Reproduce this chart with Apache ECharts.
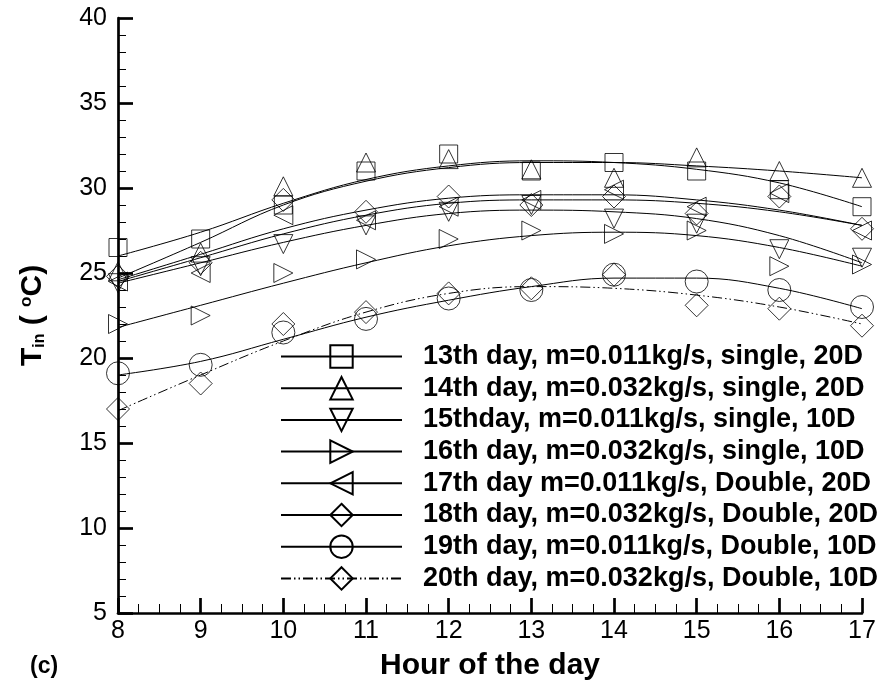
<!DOCTYPE html>
<html>
<head>
<meta charset="utf-8">
<script src="https://cdn.jsdelivr.net/npm/echarts@6/dist/echarts.min.js"></script>
<style>html,body{margin:0;padding:0;background:#fff;}#c{width:884px;height:686px;}</style>
</head>
<body>
<div id="c"></div>
<script>
// Hours of the day (x)
const hours = [8, 9, 10, 11, 12, 13, 14, 15, 16, 17];

// Legend labels
const names = [
  '13th day, m=0.011kg/s, single, 20D',
  '14th day, m=0.032kg/s, single, 20D',
  '15thday, m=0.011kg/s, single, 10D',
  '16th day, m=0.032kg/s, single, 10D',
  '17th day m=0.011kg/s, Double, 20D',
  '18th day, m=0.032kg/s, Double, 20D',
  '19th day, m=0.011kg/s, Double, 10D',
  '20th day, m=0.032kg/s, Double, 10D'
];

// Measured points (markers)
const m13 = [26.5, 27.0, 29.0, 31.0, 32.0, 31.0, 31.5, 31.0, 29.9, 28.9];
const m14 = [25.1, 26.2, 30.1, 31.5, 31.7, 31.1, 30.6, 31.8, 31.0, 30.6];
const m15 = [24.4, 25.4, 26.7, 27.8, 28.6, 29.0, 28.2, 27.9, 26.4, 25.9];
const m16 = [22.0, 22.5, 25.0, 25.8, 27.0, 27.5, 27.3, 27.5, 25.4, 25.5];
const m17 = [24.5, 25.0, 28.4, 28.1, 28.9, 29.3, 29.9, 28.9, 29.7, 27.5];
const m18 = [24.8, 25.6, 29.3, 28.6, 29.5, 29.0, 29.5, 28.5, 29.5, 27.6];
const m19 = [19.1, 19.6, 21.5, 22.3, 23.5, 24.0, 24.9, 24.5, 24.0, 23.0];
const m20 = [17.0, 18.5, 22.0, 22.7, 23.8, 24.1, 24.9, 23.1, 22.9, 21.9];

// Fitted trend curves at each hour
const f13 = [26.0, 27.4, 29.1, 30.5, 31.3, 31.6, 31.5, 31.1, 30.3, 28.9];
const f14 = [24.7, 26.8, 29.0, 30.4, 31.2, 31.5, 31.5, 31.3, 31.0, 30.6];
const f15 = [24.4, 25.6, 26.8, 27.8, 28.5, 28.7, 28.6, 28.2, 27.2, 25.6];
const f16 = [21.8, 23.1, 24.4, 25.6, 26.6, 27.2, 27.4, 27.2, 26.5, 25.4];
const f17 = [24.5, 25.9, 27.3, 28.4, 29.1, 29.3, 29.3, 29.1, 28.6, 27.8];
const f18 = [24.6, 26.1, 27.6, 28.7, 29.4, 29.6, 29.6, 29.3, 28.7, 27.8];
const f19 = [19.0, 19.8, 21.1, 22.4, 23.4, 24.2, 24.7, 24.7, 24.1, 22.9];
const f20 = [16.9, 19.0, 21.0, 22.7, 23.8, 24.2, 24.1, 23.7, 23.0, 22.0];

const markers = [m13, m14, m15, m16, m17, m18, m19, m20];
const fits = [f13, f14, f15, f16, f17, f18, f19, f20];

// Symbol styles per series
const symbols = ['rect', 'triangle', 'triangle', 'triangle', 'triangle', 'diamond', 'circle', 'diamond'];
const rotations = [0, 0, 180, -90, 90, 0, 0, 0];
const sizes = [18, 19, 19, 19, 19, 23, 23, 23];
const dashes = ['solid', 'solid', 'solid', 'solid', 'solid', 'solid', 'solid', [10, 3, 1.5, 3, 1.5, 3]];

const FONT = "'Liberation Sans', Arial, Helvetica, sans-serif";
const itemStyle = { color: 'transparent', borderColor: '#000', borderWidth: 1 };

const series = [];
names.forEach((n, k) => {
  series.push({
    type: 'line', name: n,
    data: hours.map((h, i) => [h, fits[k][i]]),
    smooth: 0.4, showSymbol: false,
    symbol: symbols[k], symbolRotate: rotations[k], symbolSize: sizes[k],
    lineStyle: { color: '#000', width: 1, type: dashes[k] },
    itemStyle: itemStyle,
    silent: true, z: 2
  });
});
names.forEach((n, k) => {
  series.push({
    type: 'scatter', name: n,
    data: hours.map((h, i) => [h, markers[k][i]]),
    symbol: symbols[k], symbolRotate: rotations[k], symbolSize: sizes[k],
    itemStyle: itemStyle,
    silent: true, z: 3
  });
});

const chart = echarts.init(document.getElementById('c'), null, { renderer: 'canvas' });
chart.setOption({
  backgroundColor: '#fff',
  animation: false,
  grid: { left: 118, right: 22, top: 18, bottom: 71, containLabel: false },
  xAxis: {
    type: 'value', min: 8, max: 17, interval: 1,
    name: 'Hour of the day', nameLocation: 'middle', nameGap: 38,
    nameTextStyle: { fontFamily: FONT, fontSize: 30, fontWeight: 'bold', color: '#000' },
    axisLine: { show: true, onZero: false, lineStyle: { color: '#000', width: 2.7 } },
    axisTick: { show: true, inside: true, length: 15, lineStyle: { color: '#000', width: 2.7 } },
    minorTick: { show: true, splitNumber: 4, length: 9, lineStyle: { color: '#000', width: 1 } },
    splitLine: { show: false },
    axisLabel: { fontFamily: FONT, fontSize: 25, color: '#000', margin: 6 }
  },
  yAxis: {
    type: 'value', min: 5, max: 40, interval: 5,
    name: '{a|T}{s|in}{a| ( }{o|o}{a|C)}', nameLocation: 'middle', nameGap: 70, nameRotate: 90,
    nameTextStyle: {
      fontFamily: FONT, fontSize: 30, fontWeight: 'bold', color: '#000',
      rich: {
        a: { fontFamily: FONT, fontSize: 30, fontWeight: 'bold', color: '#000' },
        s: { fontFamily: FONT, fontSize: 16, fontWeight: 'bold', color: '#000', verticalAlign: 'bottom', padding: [12, 0, 0, 0] },
        o: { fontFamily: FONT, fontSize: 17, fontWeight: 'bold', color: '#000', verticalAlign: 'top', padding: [0, 0, 12, 0] }
      }
    },
    axisLine: { show: true, onZero: false, lineStyle: { color: '#000', width: 2.7 } },
    axisTick: { show: true, inside: true, length: 15, lineStyle: { color: '#000', width: 2.7 } },
    minorTick: { show: true, splitNumber: 5, length: 8, lineStyle: { color: '#000', width: 1 } },
    splitLine: { show: false },
    axisLabel: { fontFamily: FONT, fontSize: 25, color: '#000', margin: 11 }
  },
  legend: {
    data: names, orient: 'vertical', left: 275, top: 338,
    itemWidth: 121, itemHeight: 28, itemGap: 4.7, selectedMode: false,
    textStyle: { fontFamily: FONT, fontSize: 27, fontWeight: 'bold', color: '#000', padding: [0, 0, 0, 16] }
  },
  graphic: [{
    type: 'text', left: 30, top: 655,
    style: { text: '(c)', fontFamily: FONT, fontSize: 23, fontWeight: 'bold', fill: '#000' }
  }],
  series: series
});
</script>
</body>
</html>
